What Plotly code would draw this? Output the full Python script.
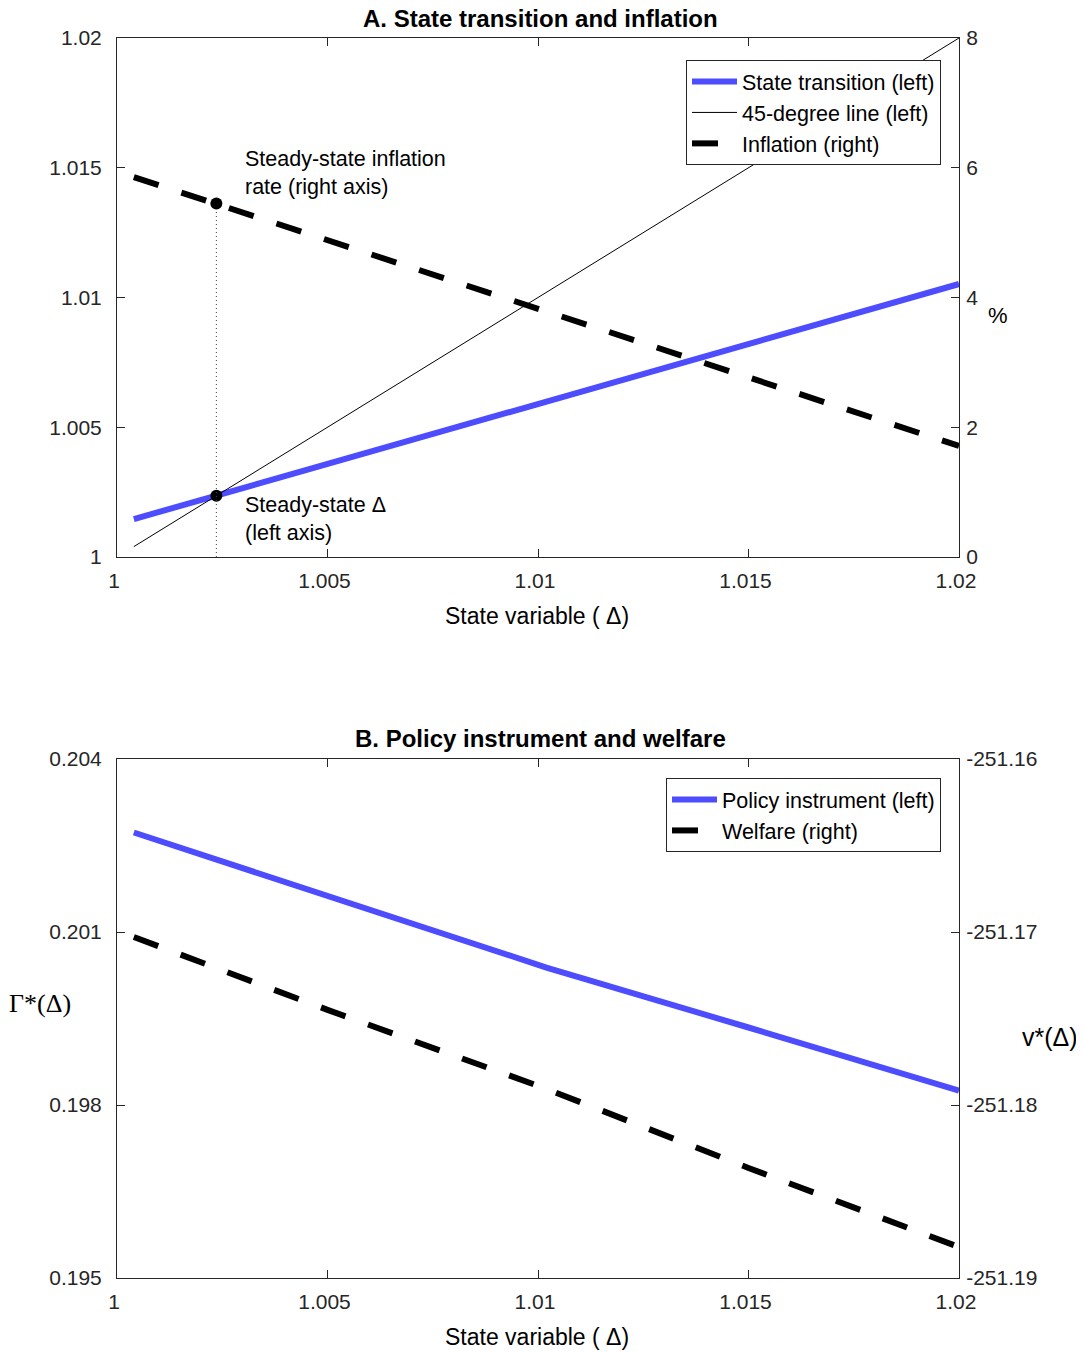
import plotly.graph_objects as go

# ---------------- data ----------------
delta_a = [1.0004, 1.005, 1.01, 1.015, 1.02]
state_transition = [1.00146, 1.00359, 1.0059, 1.00821, 1.01052]
inflation_pct = [5.857, 4.884, 3.827, 2.769, 1.711]
line45_x = [1.0004, 1.02]
line45_y = [1.0004, 1.02]
ss_delta = 1.00236
ss_inflation = 5.45

delta_b = [1.0004, 1.005, 1.0102, 1.015, 1.02]
policy_instrument = [0.202725, 0.201631, 0.200384, 0.199344, 0.198251]
welfare = [-251.17029, -251.1745, -251.17907, -251.18364, -251.18821]

x_ticks = [1, 1.005, 1.01, 1.015, 1.02]
x_ticklabels = ["1", "1.005", "1.01", "1.015", "1.02"]
ya_left_ticks = [1, 1.005, 1.01, 1.015, 1.02]
ya_left_labels = ["1", "1.005", "1.01", "1.015", "1.02"]
ya_right_ticks = [0, 2, 4, 6, 8]
ya_right_labels = ["0", "2", "4", "6", "8"]
yb_left_ticks = [0.195, 0.198, 0.201, 0.204]
yb_left_labels = ["0.195", "0.198", "0.201", "0.204"]
yb_right_ticks = [-251.19, -251.18, -251.17, -251.16]
yb_right_labels = ["-251.19", "-251.18", "-251.17", "-251.16"]

# ---------------- style ----------------
# the page body has an 8px margin, so the figure is laid out in page
# coordinates minus that offset
OFF = 8
W, H = 1084 - OFF, 1353 - OFF
PL, PR, PT, PB = 117, 959, 38, 1278          # plot box in page pixels
L, R, T, B = PL - OFF, W - (PR - OFF), PT - OFF, H - (PB - OFF)
BLUE = "rgb(77,77,255)"
AX = "#262626"
FONT = "Liberation Sans, Arial, Helvetica, sans-serif"
SERIF = "Liberation Serif, Times New Roman, serif"
FS = 21
FT = 21.5

def px(xp):
    return (xp - PL) / (PR - PL)

def py(yp):
    return 1 - (yp - PT) / (PB - PT)

DASH = "26px,24px"

fig = go.Figure()

# Panel A
fig.add_trace(go.Scatter(x=delta_a, y=state_transition, mode="lines",
                         line=dict(color=BLUE, width=6),
                         name="State transition (left)", legend="legend",
                         xaxis="x", yaxis="y"))
fig.add_trace(go.Scatter(x=line45_x, y=line45_y, mode="lines",
                         line=dict(color="black", width=1),
                         name="45-degree line (left)", legend="legend",
                         xaxis="x", yaxis="y"))
fig.add_trace(go.Scatter(x=[ss_delta], y=[ss_delta], mode="markers",
                         marker=dict(color="black", size=12),
                         showlegend=False, xaxis="x", yaxis="y"))
fig.add_trace(go.Scatter(x=[ss_delta, ss_delta], y=[0, ss_inflation], mode="lines",
                         line=dict(color="#444444", width=1, dash="1px,3px"),
                         showlegend=False, xaxis="x", yaxis="y2"))
fig.add_trace(go.Scatter(x=delta_a, y=inflation_pct, mode="lines",
                         line=dict(color="black", width=6, dash=DASH),
                         name="Inflation (right)", legend="legend",
                         xaxis="x", yaxis="y2"))
fig.add_trace(go.Scatter(x=[ss_delta], y=[ss_inflation], mode="markers",
                         marker=dict(color="black", size=12),
                         showlegend=False, xaxis="x", yaxis="y2"))

# Panel B
fig.add_trace(go.Scatter(x=delta_b, y=policy_instrument, mode="lines",
                         line=dict(color=BLUE, width=6),
                         name="Policy instrument (left)", legend="legend2",
                         xaxis="x2", yaxis="y3"))
fig.add_trace(go.Scatter(x=delta_b, y=welfare, mode="lines",
                         line=dict(color="black", width=6, dash=DASH),
                         name="Welfare (right)", legend="legend2",
                         xaxis="x2", yaxis="y4"))

xdom = [0, 1]
doma = [py(557), 1]
domb = [0, py(759)]

common = dict(showline=True, linecolor=AX, linewidth=1, ticks="inside",
              ticklen=8, tickcolor=AX, tickwidth=1, showgrid=False,
              zeroline=False, automargin=False,
              tickfont=dict(family=FONT, size=FS, color=AX))
xcommon = dict(ticklabelstandoff=5, ticklabelshift=-3, **common)
ylcommon = dict(ticklabelstandoff=10, **common)
yrcommon = dict(ticklabelstandoff=2, **common)

fig.update_layout(
    width=W, height=H,
    margin=dict(l=L, r=R, t=T, b=B, autoexpand=False),
    paper_bgcolor="white", plot_bgcolor="white",
    font=dict(family=FONT, size=FS, color=AX),
    xaxis=dict(domain=xdom, range=[1, 1.02], anchor="y", mirror="ticks",
               tickvals=x_ticks, ticktext=x_ticklabels, **xcommon),
    yaxis=dict(domain=doma, range=[1, 1.02], anchor="x",
               tickvals=ya_left_ticks, ticktext=ya_left_labels, **ylcommon),
    yaxis2=dict(range=[0, 8], overlaying="y", side="right", anchor="x",
                tickvals=ya_right_ticks, ticktext=ya_right_labels, **yrcommon),
    xaxis2=dict(domain=xdom, range=[1, 1.02], anchor="y3", mirror="ticks",
                tickvals=x_ticks, ticktext=x_ticklabels, **xcommon),
    yaxis3=dict(domain=domb, range=[0.195, 0.204], anchor="x2",
                tickvals=yb_left_ticks, ticktext=yb_left_labels, **ylcommon),
    yaxis4=dict(range=[-251.19, -251.16], overlaying="y3", side="right", anchor="x2",
                tickvals=yb_right_ticks, ticktext=yb_right_labels, **yrcommon),
    legend=dict(x=px(941), y=py(60), xanchor="right", yanchor="top",
                bgcolor="white", bordercolor=AX, borderwidth=1,
                font=dict(family=FONT, size=FT, color="black"),
                itemwidth=45, tracegroupgap=0),
    legend2=dict(x=px(941), y=py(778), xanchor="right", yanchor="top",
                 bgcolor="white", bordercolor=AX, borderwidth=1,
                 font=dict(family=FONT, size=FT, color="black"),
                 itemwidth=45, tracegroupgap=0),
    showlegend=True,
)

ann = []
def add_text(text, x, y, size=FT, bold=False, family=FONT, xanchor="center"):
    if bold:
        text = "<b>" + text + "</b>"
    ann.append(dict(text=text, x=x, y=y, xref="paper", yref="paper", showarrow=False,
                    xanchor=xanchor, yanchor="middle", align="left",
                    font=dict(family=family, size=size, color="black")))

add_text("A. State transition and inflation", px(540), py(18), size=24, bold=True)
add_text("B. Policy instrument and welfare", px(540), py(738), size=24, bold=True)
add_text("State variable ( Δ)", px(537), py(616), size=23)
add_text("State variable ( Δ)", px(537), py(1337), size=23)
add_text("%", px(998), py(315), size=22)
add_text("Γ*(Δ)", px(40), py(1003), size=26, family=SERIF)
add_text("v*(Δ)", px(1050), py(1037), size=25)
add_text("Steady-state inflation<br>rate (right axis)", px(243), py(173), xanchor="left")
add_text("Steady-state Δ<br>(left axis)", px(243), py(519), xanchor="left")
fig.update_layout(annotations=ann)

fig.write_html("out.html")
